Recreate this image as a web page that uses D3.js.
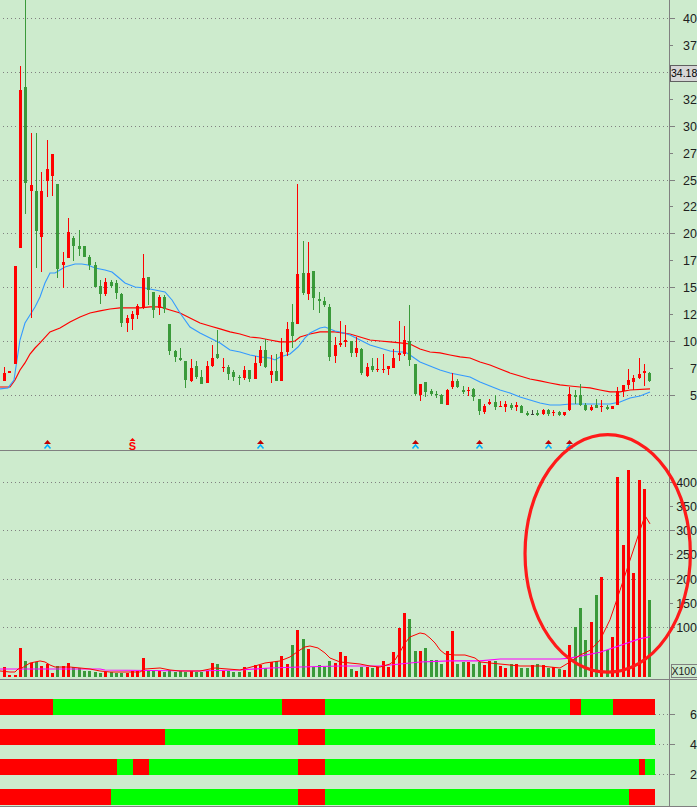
<!DOCTYPE html>
<html>
<head>
<meta charset="utf-8"/>
<script src="https://cdn.jsdelivr.net/npm/d3@7"></script>
<style>
body { margin: 0; background: #cdebcd; overflow: hidden; }
svg { display: block; font-family: "Liberation Sans", Arial, sans-serif; }
.grid { stroke: #808080; stroke-dasharray: 1,3; shape-rendering: crispEdges; }
.frame { stroke: #808080; shape-rendering: crispEdges; }
.lbl { font-size: 12.5px; fill: #202020; }
</style>
</head>
<body>
<svg id="chart" width="697" height="807"></svg>
<script>
// daily candles (price in yuan)
var opens  = [6.30,7.04,7.88,18.65,33.59,23.94,23.94,19.67,24.87,25.33,24.59,17.07,17.72,19.57,18.83,18.83,17.81,17.07,15.12,14.38,
              15.49,15.40,14.38,11.68,12.05,12.43,13.17,15.95,14.56,13.08,14.10,11.59,9.08,8.43,8.15,6.30,7.69,6.67,6.11,7.69,
              8.80,7.50,7.60,7.13,6.67,6.58,7.32,6.48,7.97,9.18,6.86,7.23,6.30,8.99,11.78,11.59,16.33,14.38,16.51,13.91,
              13.73,13.17,8.62,9.64,9.92,10.01,8.90,9.27,6.76,7.69,7.35,7.32,7.41,7.50,8.71,8.80,10.01,7.88,5.00,6.21,
              5.37,5.09,5.00,4.07,5.74,6.30,5.46,5.37,5.56,4.63,3.42,4.16,4.35,3.88,3.88,4.07,3.88,3.98,3.33,3.20,
              3.33,3.23,3.60,3.33,3.42,3.14,3.60,5.00,5.00,4.07,3.60,4.07,3.88,3.88,3.70,4.07,5.37,5.93,6.21,6.58,
              7.04,7.04];
var highs  = [7.60,7.19,16.97,35.54,42.00,29.32,29.32,25.70,28.67,27.37,24.59,18.27,21.43,19.76,20.32,18.83,18.00,17.35,15.68,15.86,
              15.68,15.68,14.47,12.43,12.80,13.45,18.09,15.95,14.56,14.28,14.28,11.59,9.18,9.36,8.15,8.34,8.15,7.32,8.15,9.64,
              11.03,8.43,7.78,7.32,6.86,7.69,7.32,8.62,9.55,10.20,8.71,8.80,10.29,11.78,13.45,24.59,19.30,19.20,16.51,14.56,
              14.10,13.45,10.38,11.87,11.50,10.01,10.38,9.36,7.97,8.43,8.43,8.80,7.69,9.27,11.87,11.40,13.35,7.88,6.02,6.21,
              5.56,5.37,5.09,5.56,7.04,6.48,5.83,5.74,5.65,4.63,4.16,4.63,5.00,4.44,4.44,4.26,4.35,4.07,3.51,3.60,
              3.60,3.70,3.70,3.60,3.51,3.42,5.74,5.46,6.02,4.26,4.07,4.63,4.54,4.07,3.98,5.74,5.93,7.41,6.86,8.43,
              7.88,7.13];
var lows   = [6.30,7.04,7.88,18.65,21.80,12.15,16.79,16.42,23.38,23.47,15.86,14.93,17.72,17.44,17.90,17.81,16.60,15.03,13.45,14.19,
              14.93,13.91,11.31,10.85,11.03,12.05,12.98,13.35,12.15,12.43,12.61,8.71,8.06,8.15,5.65,6.21,6.48,6.02,6.11,7.60,
              8.34,7.13,6.39,6.30,5.93,6.39,6.21,6.48,7.69,7.50,6.11,6.30,6.30,8.62,9.36,11.59,14.28,13.82,12.89,12.61,
              13.17,8.15,7.97,9.45,9.45,8.53,8.53,6.86,6.67,7.13,7.13,7.04,6.86,7.50,8.15,8.62,7.69,4.91,4.44,4.81,
              4.91,4.72,4.16,4.07,5.56,5.65,5.09,4.91,4.44,3.14,3.23,4.07,3.60,3.88,3.42,3.60,3.51,3.33,3.05,3.14,
              3.05,3.14,3.05,3.05,3.05,3.05,3.51,4.16,3.98,3.51,3.51,3.79,3.42,3.60,3.70,4.07,4.81,5.56,5.46,6.48,
              5.83,6.21];
var closes = [7.04,7.19,16.97,33.32,24.68,24.50,20.22,23.94,25.98,27.37,16.70,17.35,20.13,18.83,18.55,17.81,17.07,15.03,14.38,15.49,
              15.12,14.47,11.68,12.15,12.52,13.26,15.86,14.75,12.89,14.10,12.98,9.08,8.53,8.25,6.39,7.50,6.67,6.02,7.69,8.43,
              8.43,7.60,6.95,6.67,6.58,7.32,6.48,7.97,9.18,7.60,7.23,6.30,8.99,11.13,10.48,16.23,14.47,16.33,14.00,13.73,
              13.35,8.53,9.64,9.83,10.10,8.90,9.36,7.04,7.60,7.32,7.45,7.41,7.69,8.43,8.90,10.10,8.25,5.09,6.02,5.28,
              5.09,5.00,4.16,5.46,6.30,5.74,5.28,5.46,4.81,3.51,3.98,4.35,3.88,3.98,4.16,3.79,4.07,3.33,3.14,3.20,
              3.14,3.60,3.23,3.42,3.14,3.42,5.09,4.81,4.07,3.60,3.88,3.79,3.98,3.70,3.98,5.37,5.93,6.39,6.58,6.95,
              7.23,6.30];
// volume, in hundreds (axis reads X100)
var volumes = [17.5,2,2,56.8,30,25.8,27.9,19.6,23.7,5.2,19.6,19.6,25.8,17.5,15.5,9.3,9.3,7.2,5.2,7.2,
               7.2,5.2,5.2,5.2,9.3,9.3,36,9.3,9.3,9.3,7.2,11.4,7.2,9.3,7.2,9.3,7.2,7.2,9.3,25.8,
               23.7,9.3,9.3,7.2,7.2,17.5,7.2,21.7,21.7,15.5,27.9,30,40.3,23.7,63,94,75.4,54.7,17.5,21.7,
               17.5,30,25.8,48.5,40.3,13.4,9.3,17.5,17.5,15.5,17.5,30,17.5,48.5,98,129,116.7,50.6,50.6,56.8,
               32,32,23.7,50.6,91.9,23.7,27.9,27.9,23.7,27.9,21.7,30,30,19.6,15.5,23.7,23.7,15.5,15.5,21.7,
               23.7,21.7,15.5,17.5,13.4,11.4,63,100,139,73,110,166,203,53,80,410,270,424,212,403,
               385,156];

// moving averages as [candle index, value]
var priceMaFast = [[-0.84,5.56],[0.66,5.65],[1.78,6.39],[2.9,10.10],[3.84,11.68],[4.78,12.43],[5.72,13.17],[6.66,14.10],[7.59,15.40],
  [8.53,16.33],[9.47,16.33],[10.4,16.60],[11.34,16.88],[13.22,17.16],[14.5,17.16],[15.66,17.07],[16.97,16.79],[18.84,16.60],
  [20.16,16.42],[21.28,15.95],[22.59,15.40],[24.47,15.03],[26.34,14.93],[28.22,14.75],[30.09,14.56],[31.41,13.82],[32.91,12.61],
  [34.78,11.31],[36.66,10.75],[38.53,10.29],[40.41,9.83],[42.28,9.18],[44.16,8.99],[46.03,8.71],[47.91,8.53],[49.78,8.43],
  [50.72,8.25],[51.66,8.53],[53.53,8.80],[55.03,9.45],[56.34,10.29],[57.28,10.75],[59.16,11.22],[60.09,11.31],[61.97,10.94],
  [62.91,10.85],[64.78,10.57],[66.66,10.10],[68.53,9.64],[70.41,9.36],[72.28,9.08],[74.16,8.99],[75.09,8.99],[76.03,8.71],
  [77.91,8.06],[79.78,7.69],[81.66,7.32],[83.53,7.04],[85.41,6.86],[87.28,6.67],[89.16,6.21],[91.03,5.83],[92.91,5.46],
  [94.78,5.18],[96.66,4.81],[98.53,4.53],[100.41,4.26],[102.28,4.07],[104.16,4.07],[106.03,4.16],[113.53,4.16],[115.41,4.35],
  [117.28,4.72],[119.16,4.91],[121.03,5.28]];
var priceMaSlow = [[-0.84,5.74],[1.03,5.74],[1.97,6.39],[2.91,7.32],[3.84,7.97],[4.78,8.80],[5.72,9.36],[6.66,9.83],[8.53,10.85],
  [10.41,11.22],[12.28,11.78],[14.16,12.24],[16.03,12.61],[17.91,12.80],[19.78,12.98],[21.66,13.08],[25.41,13.08],[27.28,13.17],
  [29.16,13.17],[31.03,12.89],[32.91,12.61],[34.78,12.15],[36.66,11.68],[38.53,11.40],[40.41,11.13],[42.28,10.85],[44.16,10.66],
  [46.03,10.38],[47.91,10.29],[49.78,10.10],[51.66,9.92],[53.53,9.92],[54.47,10.01],[55.41,10.38],[57.28,10.66],[59.16,10.85],
  [61.97,10.85],[64.78,10.66],[66.66,10.38],[68.53,10.10],[70.41,10.01],[72.28,9.92],[74.16,9.83],[76.03,9.73],[77.91,9.27],
  [79.78,8.99],[81.66,8.90],[83.53,8.71],[85.41,8.53],[87.28,8.43],[89.16,8.06],[91.03,7.78],[92.91,7.41],[94.78,7.04],
  [96.66,6.76],[98.53,6.48],[100.41,6.30],[102.28,6.11],[104.16,5.93],[106.03,5.83],[107.91,5.74],[109.78,5.65],[111.66,5.46],
  [113.53,5.28],[115.41,5.28],[117.28,5.46],[121.03,5.56]];
var volMaFast = [[-0.84,9.3],[1.03,7.2],[1.97,7.2],[2.53,13.4],[3.28,15.5],[4.78,25.8],[6.66,30],[7.59,27.9],[8.53,21.7],[9.47,17.5],
  [12.28,17.5],[14.16,15.5],[16.03,13.4],[17.91,9.3],[19.78,7.2],[25.41,7.2],[26.34,13.4],[29.16,15.5],[31.03,11.4],[32.91,9.3],
  [36.66,9.3],[39.47,15.5],[44.16,11.4],[46.97,19.6],[48.84,25.8],[51.66,30],[53.53,38.2],[55.41,52.7],[56.34,58.9],[57.28,60.9],
  [58.78,56.8],[60.09,46.5],[61.03,36.1],[62.91,27.9],[64.78,25.8],[66.66,23.7],[68.53,19.6],[70.41,17.5],[72.28,23.7],[73.22,32],
  [74.16,48.5],[75.09,67.1],[76.03,79.5],[77.91,87.8],[78.84,85.7],[79.78,77.4],[80.72,67.1],[81.66,52.7],[82.59,44.4],[84.47,42.3],
  [86.34,42.3],[88.22,36.1],[89.16,27.9],[91.03,25.8],[92.91,23.7],[96.66,19.6],[100.41,19.6],[104.16,15.5],[106.03,27.9],
  [107.91,42],[109.78,52],[111.66,73],[113.53,115],[115.41,176],[117.28,238],[119.16,300],[120.1,330],[121.03,313]];
var volMaSlow = [[-0.84,13.4],[17.91,13.4],[18.84,11.4],[35.72,9.3],[44.16,11.4],[49.78,15.5],[55.41,17.5],[62.91,19.6],[70.41,19.6],
  [74.16,23.7],[77.91,27.9],[83.53,30],[89.16,30],[92.91,34.1],[104.16,34.1],[106.03,36],[111.66,48],[115.41,62],[119.16,76],[121.03,80]];

// signal rows of the lower pane: [from index, to index, state]
var levels = [6, 4, 2, 0];
var signalRows = [
  [[-1,9,1],[9,52,0],[52,60,1],[60,106,0],[106,108,1],[108,114,0],[114,122,1]],
  [[-1,30,1],[30,55,0],[55,60,1],[60,122,0]],
  [[-1,21,1],[21,24,0],[24,27,1],[27,55,0],[55,60,1],[60,119,0],[119,120,1],[120,122,0]],
  [[-1,20,1],[20,55,0],[55,60,1],[60,117,0],[117,122,1]]
];
var markIdx = [8, 48, 77, 89, 102, 106];
var sellIdx = [24];
var lastPrice = 34.18;
var priceTicks = d3.range(5, 40.01, 2.5);
var volTicks = [100, 150, 200, 250, 300, 350, 400];
var lowTicks = [2, 4, 6];

var RED = "#ff0000", GREEN = "#3a9a3a", BLUE = "#3399ff";
var svg = d3.select("#chart");
var N = opens.length;
var axisX = 669.5;

var x = d3.scaleLinear().domain([0, N - 1]).range([4.5, 4.5 + (N - 1) * 16 / 3]);
var y = d3.scaleLinear().domain([0, 40]).range([448.8, 18]);
var yv = d3.scaleLinear().domain([0, 400]).range([675.5, 481.7]);
var yl = d3.scaleLinear().domain([0, 6]).range([804, 714]);

function left(i) { return Math.round(x(i) - 1.5); }

// grid
svg.append("g").selectAll("line").data(priceTicks.filter(function(d) { return d % 5 === 0; }))
  .enter().append("line").attr("class", "grid")
  .attr("x1", 3).attr("x2", axisX - 1)
  .attr("y1", function(d) { return Math.round(y(d)) + 0.5; })
  .attr("y2", function(d) { return Math.round(y(d)) + 0.5; });
svg.append("g").selectAll("line").data([100, 200, 300, 400])
  .enter().append("line").attr("class", "grid")
  .attr("x1", 3).attr("x2", axisX - 1)
  .attr("y1", function(d) { return Math.round(yv(d)) + 0.5; })
  .attr("y2", function(d) { return Math.round(yv(d)) + 0.5; });
svg.append("g").selectAll("line").data(lowTicks)
  .enter().append("line").attr("class", "grid")
  .attr("x1", 3).attr("x2", axisX - 1)
  .attr("y1", function(d) { return yl(d) + 0.5; })
  .attr("y2", function(d) { return yl(d) + 0.5; });

// moving averages on price
var maLine = d3.line().x(function(d) { return x(d[0]); }).y(function(d) { return y(d[1]); });
svg.append("path").datum(priceMaSlow).attr("d", maLine)
  .attr("fill", "none").attr("stroke", RED).attr("stroke-width", 1.2);
svg.append("path").datum(priceMaFast).attr("d", maLine)
  .attr("fill", "none").attr("stroke", BLUE).attr("stroke-width", 1.1);

// candles
var idx = d3.range(N);
function col(i) {
  if (closes[i] > opens[i]) return RED;
  if (closes[i] < opens[i]) return GREEN;
  return "#404040";
}
var cg = svg.append("g").attr("shape-rendering", "crispEdges");
cg.selectAll("line").data(idx).enter().append("line")
  .attr("x1", function(i) { return left(i) + 1.5; })
  .attr("x2", function(i) { return left(i) + 1.5; })
  .attr("y1", function(i) { return y(highs[i]); })
  .attr("y2", function(i) { return y(lows[i]); })
  .attr("stroke", col);
cg.selectAll("rect").data(idx).enter().append("rect")
  .attr("x", left)
  .attr("width", 3)
  .attr("y", function(i) { return y(Math.max(opens[i], closes[i])); })
  .attr("height", function(i) { return Math.max(1, Math.abs(y(opens[i]) - y(closes[i]))); })
  .attr("fill", col);

// buy / sell marks under the candles
var mk = svg.append("g");
markIdx.forEach(function(i) {
  var cx = left(i) + 1.5;
  mk.append("path").attr("d", "M" + (cx - 3.5) + ",444 L" + cx + ",440 L" + (cx + 3.5) + ",444 Z").attr("fill", "#c00000");
  mk.append("path").attr("d", "M" + (cx - 3) + ",448.5 L" + cx + ",445 L" + (cx + 3) + ",448.5")
    .attr("fill", "none").attr("stroke", "#00b0ff").attr("stroke-width", 1.5);
});
sellIdx.forEach(function(i) {
  var cx = left(i) + 1.5;
  mk.append("path").attr("d", "M" + (cx - 3) + ",441 L" + cx + ",438 L" + (cx + 3) + ",441 Z").attr("fill", RED);
  mk.append("text").attr("x", cx).attr("y", 450).attr("text-anchor", "middle")
    .attr("font-size", 11).attr("font-weight", "bold").attr("fill", RED).text("S");
});

// volume bars
svg.append("g").attr("shape-rendering", "crispEdges").selectAll("rect").data(idx).enter().append("rect")
  .attr("x", left).attr("width", 3)
  .attr("y", function(i) { return yv(volumes[i]); })
  .attr("height", function(i) { return yv(0) - yv(volumes[i]) + 1; })
  .attr("fill", function(i) { return closes[i] >= opens[i] ? RED : GREEN; });

var vLine = d3.line().x(function(d) { return x(d[0]); }).y(function(d) { return yv(d[1]); });
svg.append("path").datum(volMaSlow).attr("d", vLine)
  .attr("fill", "none").attr("stroke", "#ff00ff").attr("stroke-width", 1.2);
svg.append("path").datum(volMaFast).attr("d", vLine)
  .attr("fill", "none").attr("stroke", RED).attr("stroke-width", 1);

// signal rows
var rows = svg.append("g").attr("shape-rendering", "crispEdges");
signalRows.forEach(function(segs, r) {
  rows.selectAll(null).data(segs).enter().append("rect")
    .attr("x", function(d) { return Math.max(0, Math.round(x(d[0]))); })
    .attr("width", function(d) { return Math.round(x(d[1])) - Math.max(0, Math.round(x(d[0]))); })
    .attr("y", yl(levels[r]) - 15)
    .attr("height", 16)
    .attr("fill", function(d) { return d[2] ? RED : "#00ff00"; });
});

// frame
svg.append("line").attr("class", "frame").attr("x1", axisX).attr("x2", axisX).attr("y1", 0).attr("y2", 807);
[450.5, 679.5, 806.5].forEach(function(v) {
  svg.append("line").attr("class", "frame").attr("x1", 0).attr("x2", 697).attr("y1", v).attr("y2", v);
});

// right axis ticks and labels (the narrow axis only shows the integer part)
var ax = svg.append("g");
var lp = Math.round(y(lastPrice));
priceTicks.forEach(function(d) {
  var yy = Math.round(y(d)) + 0.5;
  ax.append("line").attr("class", "frame").attr("x1", axisX).attr("x2", axisX + (d % 5 === 0 ? 5 : 3))
    .attr("y1", yy).attr("y2", yy);
  if (Math.abs(yy - (lp - 7.5)) < 12) return; // hidden under the price box
  ax.append("text").attr("class", "lbl").attr("x", 697).attr("y", yy).attr("dy", "0.36em")
    .attr("text-anchor", "end").text(String(Math.floor(d)));
});
volTicks.forEach(function(d) {
  var yy = Math.round(yv(d)) + 0.5;
  ax.append("line").attr("class", "frame").attr("x1", axisX).attr("x2", axisX + (d % 100 === 0 ? 5 : 3))
    .attr("y1", yy).attr("y2", yy);
  ax.append("text").attr("class", "lbl").attr("x", 697).attr("y", yy).attr("dy", "0.36em")
    .attr("text-anchor", "end").text(d);
});
lowTicks.forEach(function(d) {
  var yy = yl(d) + 0.5;
  ax.append("line").attr("class", "frame").attr("x1", axisX).attr("x2", axisX + 5).attr("y1", yy).attr("y2", yy);
  ax.append("text").attr("class", "lbl").attr("x", 697).attr("y", yy).attr("dy", "0.36em")
    .attr("text-anchor", "end").text(d);
});

// last price box
ax.append("rect").attr("x", axisX + 0.5).attr("y", lp - 15.5).attr("width", 40).attr("height", 16)
  .attr("fill", "#d6d6d6").attr("stroke", "#606060").attr("shape-rendering", "crispEdges");
ax.append("text").attr("x", axisX + 1.5).attr("y", lp - 7.5).attr("dy", "0.36em")
  .attr("font-size", 10.5).attr("fill", "#000").text(lastPrice.toFixed(2));

// unit box of the volume pane
ax.append("rect").attr("x", axisX + 1.5).attr("y", yv(0) - 11).attr("width", 40).attr("height", 13)
  .attr("fill", "#cdebcd").attr("stroke", "#808080").attr("shape-rendering", "crispEdges");
ax.append("text").attr("x", axisX + 2).attr("y", yv(0) - 4.5).attr("dy", "0.36em")
  .attr("font-size", 10.5).attr("fill", "#202020").text("X100");

// highlight ellipse drawn round the recent volume burst
var hl = { from: 97.6, to: 128.6, low: 7, high: 497 };
svg.append("ellipse")
  .attr("cx", (x(hl.from) + x(hl.to)) / 2).attr("cy", (yv(hl.low) + yv(hl.high)) / 2)
  .attr("rx", (x(hl.to) - x(hl.from)) / 2).attr("ry", (yv(hl.low) - yv(hl.high)) / 2)
  .attr("fill", "none").attr("stroke", "#ff1a1a").attr("stroke-width", 3.2);
</script>
</body>
</html>
